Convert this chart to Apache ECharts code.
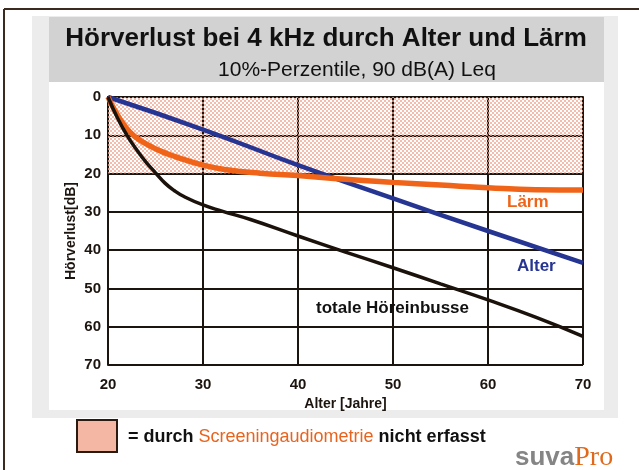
<!DOCTYPE html>
<html>
<head>
<meta charset="utf-8">
<script src="https://cdn.jsdelivr.net/npm/echarts@6/dist/echarts.min.js"></script>
<style>
  html, body { margin: 0; padding: 0; background: #fff; }
  #chart { width: 639px; height: 470px; }
</style>
</head>
<body>
<div id="chart"></div>
<script>
  // Werte
  var xTicks = [20, 30, 40, 50, 60, 70];
  var yTicks = [0, 10, 20, 30, 40, 50, 60, 70];

  var alterAge = [20, 30, 40, 50, 60, 70];
  var alterLoss = [0, 8.5, 17.8, 26.5, 35, 43.3];

  var laermAge = [20, 20.7, 21.8, 22.8, 24.2, 25.6, 27, 30, 32.5, 36, 40, 45, 50, 55, 60, 65, 70];
  var laermLoss = [0, 3.4, 7.7, 10.3, 12.5, 14.2, 15.5, 17.8, 19, 19.9, 20.5, 21.5, 22.3, 23, 23.7, 24.2, 24.3];

  var totalAge = [20, 21, 22, 23, 24, 25, 26, 27, 28, 30, 32, 35, 40, 45, 50, 55, 60, 65, 70];
  var totalLoss = [0, 5.5, 10, 13.7, 17, 19.8, 22.5, 24.5, 26, 28.2, 29.8, 32, 36.3, 40.5, 44.6, 48.8, 53, 57.5, 62.5];

  var screenRange = [0, 20]; // nicht erfasster Bereich

  function pairs(xs, ys) {
    return xs.map(function (x, i) { return [x, ys[i]]; });
  }

  // Rasterfläche (rosa Punkte) wie im Druck
  var pat = document.createElement('canvas');
  pat.width = 4;
  pat.height = 4;
  var ctx = pat.getContext('2d');
  ctx.fillStyle = 'rgba(240,165,145,0.75)';
  ctx.fillRect(0, 0, 2, 2);
  ctx.fillRect(2, 2, 2, 2);

  var font = '"Liberation Sans", Arial, Helvetica, sans-serif';
  var dark = '#1c140e';

  var chart = echarts.init(document.getElementById('chart'));
  var option = {
    animation: false,
    backgroundColor: '#fff',
    grid: { left: 108, top: 97, width: 475, height: 268 },
    xAxis: {
      type: 'value',
      min: xTicks[0],
      max: xTicks[xTicks.length - 1],
      interval: 10,
      name: 'Alter [Jahre]',
      nameLocation: 'middle',
      nameGap: 31,
      nameTextStyle: { color: dark, fontFamily: font, fontWeight: 'bold', fontSize: 14 },
      axisLine: { lineStyle: { color: dark, width: 2 } },
      axisTick: { show: false },
      axisLabel: { color: dark, fontFamily: font, fontWeight: 'bold', fontSize: 15, margin: 12 },
      splitLine: { show: true, lineStyle: { color: dark, width: 2 } }
    },
    yAxis: {
      type: 'value',
      inverse: true,
      min: yTicks[0],
      max: yTicks[yTicks.length - 1],
      interval: 10,
      name: 'Hörverlust[dB]',
      nameLocation: 'middle',
      nameRotate: 90,
      nameGap: 30,
      nameMoveOverlap: false,
      nameTextStyle: { color: dark, fontFamily: font, fontWeight: 'bold', fontSize: 14 },
      axisLine: { show: true, lineStyle: { color: dark, width: 2 } },
      axisTick: { show: false },
      axisLabel: { color: dark, fontFamily: font, fontWeight: 'bold', fontSize: 15, margin: 7 },
      splitLine: { show: true, lineStyle: { color: dark, width: 2 } }
    },
    graphic: [
      // Rahmen
      { type: 'line', z: -20, shape: { x1: 4, y1: 9, x2: 639, y2: 9 }, style: { stroke: '#3a2a20', lineWidth: 2 } },
      { type: 'line', z: -20, shape: { x1: 4, y1: 9, x2: 4, y2: 470 }, style: { stroke: '#3a2a20', lineWidth: 2 } },
      { type: 'rect', z: -20, shape: { x: 32, y: 16, width: 586, height: 402 }, style: { fill: '#ececec' } },
      { type: 'rect', z: -19, shape: { x: 49, y: 82, width: 555, height: 328 }, style: { fill: '#fff' } },
      { type: 'rect', z: -19, shape: { x: 49, y: 17, width: 555, height: 65 }, style: { fill: '#d2d2d2' } },
      {
        type: 'text', z: 10, x: 326, y: 39,
        style: { text: 'Hörverlust bei 4 kHz durch Alter und Lärm', fill: '#111', font: 'bold 26px ' + font, textAlign: 'center', textVerticalAlign: 'middle' }
      },
      {
        type: 'text', z: 10, x: 357, y: 70,
        style: { text: '10%-Perzentile, 90 dB(A) Leq', fill: '#111', font: '21px ' + font, textAlign: 'center', textVerticalAlign: 'middle' }
      },
      // Beschriftung der Kurven
      { type: 'text', z: 10, x: 507, y: 202, style: { text: 'Lärm', fill: '#ef6418', font: 'bold 17px ' + font, textVerticalAlign: 'middle' } },
      { type: 'text', z: 10, x: 517, y: 266, style: { text: 'Alter', fill: '#263592', font: 'bold 17px ' + font, textVerticalAlign: 'middle' } },
      { type: 'text', z: 10, x: 316, y: 308, style: { text: 'totale Höreinbusse', fill: '#111', font: 'bold 17px ' + font, textVerticalAlign: 'middle' } },
      // Legende
      { type: 'rect', z: 10, shape: { x: 77, y: 420, width: 40, height: 32 }, style: { fill: '#f4b7a3', stroke: '#2a1a10', lineWidth: 2 } },
      {
        type: 'text', z: 10, x: 128, y: 437,
        style: {
          text: '{a|= durch }{b|Screeningaudiometrie}{a| nicht erfasst}',
          textVerticalAlign: 'middle',
          rich: {
            a: { fill: '#111', font: 'bold 18px ' + font },
            b: { fill: '#e8641e', font: '18px ' + font }
          }
        }
      },
      {
        type: 'text', z: 10, x: 515, y: 458,
        style: {
          text: '{s|suva}{p|Pro}',
          textVerticalAlign: 'middle',
          rich: {
            s: { fill: '#858585', font: 'bold 26px ' + font },
            p: { fill: '#e06a1c', font: '28px "Liberation Serif", "DejaVu Serif", serif' }
          }
        }
      }
    ],
    series: [
      {
        name: 'Alter',
        type: 'line',
        smooth: true,
        symbol: 'none',
        z: 3,
        lineStyle: { color: '#263592', width: 4.5 },
        data: pairs(alterAge, alterLoss)
      },
      {
        name: 'Lärm',
        type: 'line',
        smooth: true,
        symbol: 'none',
        z: 3,
        lineStyle: { color: '#ef6418', width: 5.5 },
        data: pairs(laermAge, laermLoss)
      },
      {
        name: 'totale Höreinbusse',
        type: 'line',
        smooth: true,
        symbol: 'none',
        z: 3,
        lineStyle: { color: '#1a120b', width: 3.5 },
        data: pairs(totalAge, totalLoss)
      },
      {
        name: 'Screening',
        type: 'line',
        z: 6,
        data: [],
        markArea: {
          silent: true,
          itemStyle: { color: { image: pat, repeat: 'repeat' } },
          data: [[{ yAxis: screenRange[0], xAxis: 'min' }, { yAxis: screenRange[1], xAxis: 'max' }]]
        }
      }
    ]
  };
  chart.setOption(option);
</script>
</body>
</html>
